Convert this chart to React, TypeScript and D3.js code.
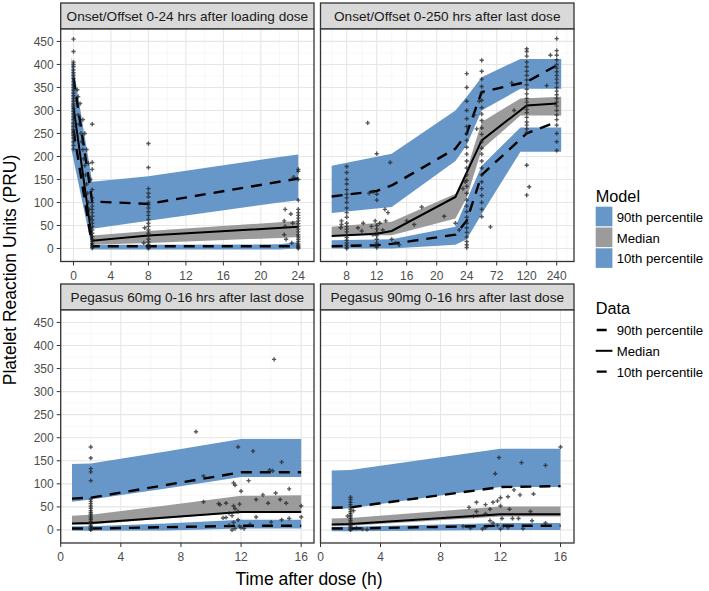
import React from "react";
import * as d3 from "d3";

// ---------------- Panel titles ----------------
const panelTitles = [
  "Onset/Offset 0-24 hrs after loading dose",
  "Onset/Offset 0-250 hrs after last dose",
  "Pegasus 60mg 0-16 hrs after last dose",
  "Pegasus 90mg 0-16 hrs after last dose",
];

const yTicks = [0, 50, 100, 150, 200, 250, 300, 350, 400, 450];
const xTicksLoad = [0, 4, 8, 12, 16, 20, 24];
const xTicksOffset = [8, 12, 16, 20, 24, 72, 120, 240];
const xTicksPeg = [0, 4, 8, 12, 16];

// ---------------- Panel 1: loading dose ----------------
const loadBandTimes = [-0.2, 2, 8, 22, 24];
const load90Lo = [250, 43, 60, 100, 105];
const load90Hi = [416, 145, 157, 199, 204];
const loadMedLo = [245, 8, 12, 23, 25];
const loadMedHi = [320, 28, 38, 57, 60];
const load10Lo = [213, -2, -2, -2, 0];
const load10Hi = [275, 8, 8, 9, 14];
const loadLineTimes = [0, 2, 8, 24];
const load90 = [370, 102, 97, 152];
const loadMed = [307, 17, 28, 47];
const load10 = [257, 5, 5, 5];
const obsLoad: [number, number][] = [
  [0,455],[0,428],[0,405],[0,400],[0,395],[0,388],[0,382],[0,376],[0,370],[0,362],[0,356],[0,350],[0,344],[0,338],[0,332],[0,326],[0,320],[0,314],[0,309],[0,304],[0,298],[0,292],[0,286],[0,280],[0,272],[0,265],[0,258],[0,252],[0,246],[0,240],[0,232],[0,224],[0,216],
  [0.4,345],[0.5,330],[0.5,290],[0.6,270],[0.7,315],[0.8,250],[0.9,232],[1.0,280],[1.0,215],[1.1,195],[1.2,250],[1.2,180],[1.3,160],[1.4,215],[1.4,140],[1.5,120],[1.6,185],[1.6,100],[1.7,85],[1.8,150],[1.8,65],[1.9,45],
  [2,270],[2,187],[2,172],[2,128],[2,110],[2,100],[2,92],[2,85],[2,78],[2,70],[2,62],[2,55],[2,48],[2,40],[2,33],[2,26],[2,20],[2,15],[2,10],[2,6],[2,3],[2,1],
  [8,228],[8,176],[8,130],[8,120],[8,112],[8,100],[8,95],[8,88],[8,80],[8,72],[8,63],[8,55],[8,48],[8,40],[8,33],[8,27],[8,20],[8,14],[8,9],[8,5],[8,2],[8,0],[7.6,45],[7.5,12],
  [22.6,85],[22.5,60],[22.6,48],[22.5,30],[22.7,20],[23.2,75],[23.4,55],[23.3,12],[23.5,155],
  [24,172],[24,168],[24,150],[24,105],[24,85],[24,78],[24,72],[24,66],[24,60],[24,54],[24,48],[24,42],[24,36],[24,30],[24,25],[24,20],[24,15],[24,10],[24,7],[24,4],[24,2],[24,0],
];

// ---------------- Panel 2: offset 0-250 h ----------------
const offBandTimes = [6, 14, 22.5, 24, 48, 110, 258];
const off90Lo = [77, 90, 190, 225, 300, 347, 347];
const off90Hi = [180, 206, 300, 330, 372, 412, 412];
const offMedLo = [29, 29, 65, 110, 215, 289, 289];
const offMedHi = [47, 58, 119, 170, 275, 326, 330];
const off10Lo = [0, 0, 8, 20, 75, 210, 210];
const off10Hi = [18, 20, 47, 105, 180, 263, 263];
const offLineTimes = [6, 12, 14, 22.5, 24, 48, 120, 240];
const off90 = [113, 125, 137, 217, 250, 340, 362, 398];
const offMed = [27, 32, 38, 112, 165, 235, 311, 315];
const off10 = [5, 7, 10, 30, 60, 160, 250, 275];
const obsOffset: [number, number][] = [
  [8,178],[8,165],[8,150],[8,140],[8,128],[8,118],[8,110],[8,100],[8,88],[8,78],[8,68],[8,55],[8,48],[8,42],[8,36],[8,30],[8,24],[8,18],[8,12],[8,7],[8,3],[8,0],
  [7.3,60],[7.3,52],[7.2,45],
  [9.5,45],[10,38],[10.2,55],[10.8,273],[11,120],[11.3,48],[11.5,123],[11.5,30],[11.8,60],
  [12,206],[12,118],[12,105],[12,50],[12,42],[12,35],[12,28],[12,20],[12,12],[12,6],[12,2],
  [12.4,55],[12.8,40],[13.1,85],[13.2,60],[13.8,187],[13.5,78],[14,20],[14.5,12],[15,8],[16,60],[17,52],[18,90],[21,70],[22.5,55],
  [23.5,130],[23.8,145],[23,40],
  [24,380],[24,350],[24,320],[24,300],[24,282],[24,265],[24,250],[24,235],[24,220],[24,205],[24,190],[24,175],[24,160],[24,148],[24,135],[24,120],[24,105],[24,92],[24,80],[24,68],[24,55],[24,45],[24,35],[24,25],[24,15],[24,8],[24,2],
  [36,290],[40,260],[44,320],
  [48,409],[48,385],[48,368],[48,352],[48,338],[48,322],[48,306],[48,292],[48,278],[48,262],[48,248],[48,232],[48,218],[48,205],[48,190],[48,175],[48,160],[48,145],[48,130],[48,115],[48,100],[48,85],[48,69],
  [62,47],[96,360],[100,300],
  [120,434],[120,428],[120,418],[120,405],[120,395],[120,385],[120,376],[120,366],[120,356],[120,346],[120,336],[120,326],[120,318],[120,310],[120,302],[120,295],[120,285],[120,275],[120,268],[120,260],[120,252],[120,181],[120,116],
  [130,134],[200,354],[215,420],
  [240,456],[240,430],[240,420],[240,410],[240,400],[240,392],[240,384],[240,376],[240,368],[240,360],[240,350],[240,342],[240,334],[240,326],[240,318],[240,310],[240,300],[240,290],[240,280],[240,268],[240,250],[240,232],[240,213],
];

// ---------------- Panel 3: Pegasus 60mg ----------------
const p60BandTimes = [0.75, 2, 7, 12, 16];
const p60_90Lo = [61, 66, 90, 115, 115];
const p60_90Hi = [143, 144, 170, 197, 197];
const p60MedLo = [12, 12, 25, 38, 38];
const p60MedHi = [31, 33, 53, 74, 75];
const p60_10Lo = [-2, -2, -1, 3, 3];
const p60_10Hi = [8, 8, 14, 22, 22];
const p60LineTimes = [0.75, 2, 12, 16];
const p60_90 = [68, 70, 125, 125];
const p60Med = [14, 15, 39, 39];
const p60_10 = [3, 3, 9, 9];
const obsP60: [number, number][] = [
  [2,180],[2,156],[2,133],[2,126],[2,107],[2,67],[2,62],[2,57],[2,52],[2,47],[2,42],[2,38],[2,34],[2,30],[2,26],[2,22],[2,18],[2,14],[2,10],[2,7],[2,4],[2,2],[2,0],
  [9.0,213],[14.2,370],[11.8,180],[12.8,171],[14.7,147],[13.9,130],[14.1,128],[9.5,117],[11.5,102],[11.6,97],[12.5,107],[12.0,84],[13.45,76],[14.3,80],[15.2,89],[16,52],[16,28],
  [9.5,61],[10.5,57],[11.0,58],[11.5,52],[11.6,46],[11.8,40],[11.2,36],[11.4,31],[11.0,27],[11.8,22],[11.5,16],[11.2,10],[11.9,8],[12.0,5],[11.6,3],[11.4,0],[12.2,3],
  [13.0,66],[13.8,58],[14.6,66],[15.0,58],[14.7,22],[15.2,25],[13.0,28],[12.6,12],[14.0,17],[11.9,56],[10.8,26],[10.6,55],
];

// ---------------- Panel 4: Pegasus 90mg ----------------
const p90BandTimes = [0.75, 2, 12, 16];
const p90_90Lo = [45, 47, 93, 93];
const p90_90Hi = [129, 130, 176, 176];
const p90MedLo = [9, 9, 29, 29];
const p90MedHi = [25, 26, 51, 51];
const p90_10Lo = [-3, -3, 0, 0];
const p90_10Hi = [7, 7, 15, 15];
const p90LineTimes = [0.75, 2, 12, 16];
const p90_90 = [48, 49, 93, 95];
const p90Med = [12, 13, 34, 34];
const p90_10 = [3, 3, 9, 9];
const obsP90: [number, number][] = [
  [2,71],[2,66],[2,60],[2,55],[2,50],[2,45],[2,40],[2,36],[2,32],[2,28],[2,24],[2,20],[2,16],[2,12],[2,9],[2,6],[2,3],[2,1],[2,0],[2.4,4],[2.8,2],[3.1,1],[1.8,30],[2.2,42],
  [11.9,157],[11.65,122],[13.4,146],[15,140],[16,180],[14.2,78],[13.3,76],[12.9,87],[12.5,72],[12.0,70],[9.9,49],[10.4,60],[11.0,55],[11.5,60],[11.8,63],[12.0,52],[11.3,45],[10.4,40],[11.0,35],[12.1,25],[12.8,25],[13.2,25],[14.0,40],[14.1,20],[11.5,15],[11.8,10],[12.2,8],[12.5,5],[11.0,5],[10.8,2],[12.0,2],[15.0,15],[13.5,3],[11.3,20],[10.2,30],[12.6,45],[9.5,8],[10.0,4],
];

// ---------------- Legend ----------------
const modelLegend = ["90th percentile", "Median", "10th percentile"];
const dataLegend = ["90th percentile", "Median", "10th percentile"];

// ---------------- Styling ----------------
const FONT = "'Liberation Sans', Arial, Helvetica, sans-serif";
const BLUE = "#6697c8";
const GRAY = "#9b9b9b";
const BORDER = "#333333";
const GRID = "#e6e6e6";
const GRID_MINOR = "#f3f3f3";
const TICK_TXT = "#4d4d4d";
const DASH = "11 8";

type Band = { times: number[]; lo: number[]; hi: number[]; fill: string };
type Line = { times: number[]; vals: number[]; dash?: string };

interface PanelProps {
  title: string;
  left: number;
  right: number;
  stripTop: number;
  top: number;
  bottom: number;
  x: (v: number) => number;
  xTicks: number[];
  xMinor: number[];
  showY: boolean;
  bands: Band[];
  lines: Line[];
  obs: [number, number][];
  clipId: string;
}

function Panel(p: PanelProps) {
  const y = d3.scaleLinear().domain([-28.3, 477]).range([p.bottom, p.top]);
  const yMinor = yTicks.map((t) => t + 25).concat([-25]);
  const area = (b: Band) =>
    d3
      .area<number>()
      .x((_, i) => p.x(b.times[i]))
      .y0((_, i) => y(b.lo[i]))
      .y1((_, i) => y(b.hi[i]))(b.times.map((_, i) => i)) || "";
  const line = (l: Line) =>
    d3
      .line<number>()
      .x((_, i) => p.x(l.times[i]))
      .y((_, i) => y(l.vals[i]))(l.times.map((_, i) => i)) || "";
  const sym = d3.symbol(d3.symbolCross, 10)() || "";
  return (
    <g>
      <defs>
        <clipPath id={p.clipId}>
          <rect x={p.left} y={p.top} width={p.right - p.left} height={p.bottom - p.top} />
        </clipPath>
      </defs>
      {/* strip */}
      <rect x={p.left} y={p.stripTop} width={p.right - p.left} height={p.top - p.stripTop} fill="#d9d9d9" stroke={BORDER} strokeWidth={1.3} />
      <text x={(p.left + p.right) / 2} y={(p.stripTop + p.top) / 2} dy="0.36em" textAnchor="middle" fontSize={13.6} fill="#1a1a1a" fontFamily={FONT}>
        {p.title}
      </text>
      {/* panel */}
      <rect x={p.left} y={p.top} width={p.right - p.left} height={p.bottom - p.top} fill="#fff" />
      <g clipPath={`url(#${p.clipId})`}>
        {yMinor.map((t) => (
          <line key={"ym" + t} x1={p.left} x2={p.right} y1={y(t)} y2={y(t)} stroke={GRID_MINOR} strokeWidth={0.6} />
        ))}
        {p.xMinor.map((t) => (
          <line key={"xm" + t} x1={p.x(t)} x2={p.x(t)} y1={p.top} y2={p.bottom} stroke={GRID_MINOR} strokeWidth={0.6} />
        ))}
        {yTicks.map((t) => (
          <line key={"yg" + t} x1={p.left} x2={p.right} y1={y(t)} y2={y(t)} stroke={GRID} strokeWidth={1.1} />
        ))}
        {p.xTicks.map((t) => (
          <line key={"xg" + t} x1={p.x(t)} x2={p.x(t)} y1={p.top} y2={p.bottom} stroke={GRID} strokeWidth={1.1} />
        ))}
        {p.bands.map((b, i) => (
          <path key={"b" + i} d={area(b)} fill={b.fill} />
        ))}
        {p.lines.map((l, i) => (
          <path key={"l" + i} d={line(l)} fill="none" stroke="#000" strokeWidth={l.dash ? 2.4 : 2} strokeDasharray={l.dash} />
        ))}
        {p.obs.map(([t, v], i) => (
          <path key={"o" + i} d={sym} transform={`translate(${p.x(t)},${y(v)})`} fill="#222" fillOpacity={0.75} />
        ))}
      </g>
      <rect x={p.left} y={p.top} width={p.right - p.left} height={p.bottom - p.top} fill="none" stroke={BORDER} strokeWidth={1.3} />
      {/* x axis */}
      {p.xTicks.map((t) => (
        <g key={"xt" + t}>
          <line x1={p.x(t)} x2={p.x(t)} y1={p.bottom} y2={p.bottom + 4} stroke={BORDER} strokeWidth={1} />
          <text x={p.x(t)} y={p.bottom + 14} dy="0.36em" textAnchor="middle" fontSize={12} fill={TICK_TXT} fontFamily={FONT}>
            {t}
          </text>
        </g>
      ))}
      {p.showY &&
        yTicks.map((t) => (
          <g key={"yt" + t}>
            <line x1={p.left - 4} x2={p.left} y1={y(t)} y2={y(t)} stroke={BORDER} strokeWidth={1} />
            <text x={p.left - 7} y={y(t)} dy="0.36em" textAnchor="end" fontSize={12} fill={TICK_TXT} fontFamily={FONT}>
              {t}
            </text>
          </g>
        ))}
    </g>
  );
}

export default function App() {
  const colL = [60.7, 314];
  const colR = [320.5, 574];
  const rowT = { strip: 3, top: 29, bottom: 261.5 };
  const rowB = { strip: 284, top: 310, bottom: 543 };

  const xLoad = d3.scaleLinear().domain([0, 24]).range([73.5, 298.3]);
  const xOff = d3
    .scaleLinear()
    .domain(xTicksOffset)
    .range(xTicksOffset.map((_, i) => 346.7 + 30 * i));
  const xP60 = d3.scaleLinear().domain([0, 16]).range([colL[0], colL[0] + 240.5]);
  const xP90 = d3.scaleLinear().domain([0, 16]).range([colR[0], colR[0] + 240]);

  const bands = (t: number[], lo90: number[], hi90: number[], loM: number[], hiM: number[], lo10: number[], hi10: number[]): Band[] => [
    { times: t, lo: loM, hi: hiM, fill: GRAY },
    { times: t, lo: lo90, hi: hi90, fill: BLUE },
    { times: t, lo: lo10, hi: hi10, fill: BLUE },
  ];
  const lines = (t: number[], v90: number[], vM: number[], v10: number[]): Line[] => [
    { times: t, vals: v90, dash: DASH },
    { times: t, vals: vM },
    { times: t, vals: v10, dash: DASH },
  ];

  const keyX = 595.7;
  const keyW = 16.7;

  return (
    <svg width={709} height={591} style={{ display: "block", position: "absolute", left: 0, top: 0, background: "#fff" }} fontFamily={FONT}>
      <rect x={0} y={0} width={709} height={591} fill="#fff" />
      <Panel
        title={panelTitles[0]}
        left={colL[0]} right={colL[1]} stripTop={rowT.strip} top={rowT.top} bottom={rowT.bottom}
        x={xLoad} xTicks={xTicksLoad} xMinor={[2, 6, 10, 14, 18, 22]} showY={true}
        bands={bands(loadBandTimes, load90Lo, load90Hi, loadMedLo, loadMedHi, load10Lo, load10Hi)}
        lines={lines(loadLineTimes, load90, loadMed, load10)}
        obs={obsLoad} clipId="c1"
      />
      <Panel
        title={panelTitles[1]}
        left={colR[0]} right={colR[1]} stripTop={rowT.strip} top={rowT.top} bottom={rowT.bottom}
        x={xOff} xTicks={xTicksOffset} xMinor={[6, 10, 14, 18, 22, 48, 96, 180, 280]} showY={false}
        bands={bands(offBandTimes, off90Lo, off90Hi, offMedLo, offMedHi, off10Lo, off10Hi)}
        lines={lines(offLineTimes, off90, offMed, off10)}
        obs={obsOffset} clipId="c2"
      />
      <Panel
        title={panelTitles[2]}
        left={colL[0]} right={colL[1]} stripTop={rowB.strip} top={rowB.top} bottom={rowB.bottom}
        x={xP60} xTicks={xTicksPeg} xMinor={[2, 6, 10, 14]} showY={true}
        bands={bands(p60BandTimes, p60_90Lo, p60_90Hi, p60MedLo, p60MedHi, p60_10Lo, p60_10Hi)}
        lines={lines(p60LineTimes, p60_90, p60Med, p60_10)}
        obs={obsP60} clipId="c3"
      />
      <Panel
        title={panelTitles[3]}
        left={colR[0]} right={colR[1]} stripTop={rowB.strip} top={rowB.top} bottom={rowB.bottom}
        x={xP90} xTicks={xTicksPeg} xMinor={[2, 6, 10, 14]} showY={false}
        bands={bands(p90BandTimes, p90_90Lo, p90_90Hi, p90MedLo, p90MedHi, p90_10Lo, p90_10Hi)}
        lines={lines(p90LineTimes, p90_90, p90Med, p90_10)}
        obs={obsP90} clipId="c4"
      />

      {/* axis titles */}
      <text x={309} y={585} textAnchor="middle" fontSize={17.5} fill="#000">Time after dose (h)</text>
      <text transform="translate(16,270) rotate(-90)" textAnchor="middle" fontSize={17.5} fill="#000">Platelet Reaction Units (PRU)</text>

      {/* legend: Model */}
      <text x={keyX} y={202.3} fontSize={16.3} fill="#000">Model</text>
      {modelLegend.map((lab, i) => (
        <g key={"ml" + i}>
          <rect x={keyX} y={206.7 + i * 20.8} width={keyW} height={19.6} fill={i === 1 ? GRAY : BLUE} />
          <text x={616.7} y={216.5 + i * 20.8} dy="0.4em" fontSize={13.2} fill="#000">{lab}</text>
        </g>
      ))}
      {/* legend: Data */}
      <text x={keyX} y={314.3} fontSize={16.3} fill="#000">Data</text>
      {dataLegend.map((lab, i) => (
        <g key={"dl" + i}>
          <line x1={keyX} x2={keyX + keyW} y1={330 + i * 20.8} y2={330 + i * 20.8} stroke="#000" strokeWidth={i === 1 ? 2 : 2.4} strokeDasharray={i === 1 ? undefined : "0 1 10 20"} />
          <text x={616.7} y={330 + i * 20.8} dy="0.4em" fontSize={13.2} fill="#000">{lab}</text>
        </g>
      ))}
    </svg>
  );
}
